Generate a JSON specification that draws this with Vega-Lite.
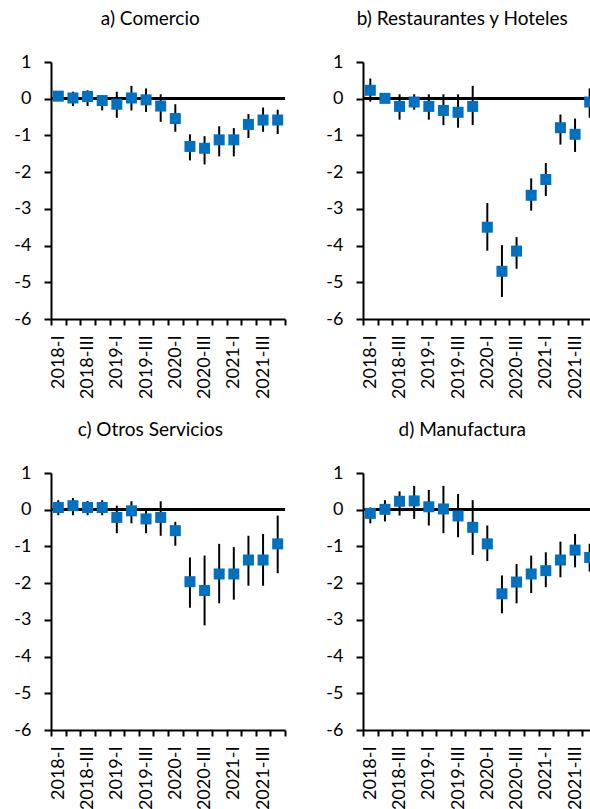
{
  "$schema": "https://vega.github.io/schema/vega-lite/v6.json",
  "padding": {"left": 13, "top": 10, "right": 0, "bottom": 0},
  "datasets": {
    "a": [
      {"q":"2018-I","v":0.07,"lo":-0.06,"hi":0.2},
      {"q":"2018-II","v":0.02,"lo":-0.2,"hi":0.19},
      {"q":"2018-III","v":0.06,"lo":-0.2,"hi":0.23},
      {"q":"2018-IV","v":-0.05,"lo":-0.32,"hi":0.1},
      {"q":"2019-I","v":-0.15,"lo":-0.52,"hi":0.19},
      {"q":"2019-II","v":0.02,"lo":-0.32,"hi":0.35},
      {"q":"2019-III","v":-0.03,"lo":-0.36,"hi":0.28},
      {"q":"2019-IV","v":-0.2,"lo":-0.63,"hi":0.12},
      {"q":"2020-I","v":-0.54,"lo":-0.9,"hi":-0.15},
      {"q":"2020-II","v":-1.3,"lo":-1.68,"hi":-0.97},
      {"q":"2020-III","v":-1.35,"lo":-1.79,"hi":-1.02},
      {"q":"2020-IV","v":-1.12,"lo":-1.57,"hi":-0.75},
      {"q":"2021-I","v":-1.12,"lo":-1.57,"hi":-0.8},
      {"q":"2021-II","v":-0.7,"lo":-1.07,"hi":-0.42},
      {"q":"2021-III","v":-0.58,"lo":-0.9,"hi":-0.24},
      {"q":"2021-IV","v":-0.58,"lo":-0.96,"hi":-0.3}
    ],
    "b": [
      {"q":"2018-I","v":0.23,"lo":-0.08,"hi":0.55},
      {"q":"2018-II","v":0.01,"lo":-0.07,"hi":0.1},
      {"q":"2018-III","v":-0.21,"lo":-0.57,"hi":0.12},
      {"q":"2018-IV","v":-0.09,"lo":-0.3,"hi":0.12},
      {"q":"2019-I","v":-0.21,"lo":-0.57,"hi":0.12},
      {"q":"2019-II","v":-0.32,"lo":-0.72,"hi":0.12},
      {"q":"2019-III","v":-0.37,"lo":-0.79,"hi":0.12},
      {"q":"2019-IV","v":-0.21,"lo":-0.72,"hi":0.35},
      {"q":"2020-I","v":-3.5,"lo":-4.14,"hi":-2.84},
      {"q":"2020-II","v":-4.7,"lo":-5.4,"hi":-3.99},
      {"q":"2020-III","v":-4.15,"lo":-4.63,"hi":-3.77},
      {"q":"2020-IV","v":-2.63,"lo":-3.05,"hi":-2.17},
      {"q":"2021-I","v":-2.2,"lo":-2.65,"hi":-1.75},
      {"q":"2021-II","v":-0.79,"lo":-1.25,"hi":-0.43},
      {"q":"2021-III","v":-0.97,"lo":-1.45,"hi":-0.54},
      {"q":"2021-IV","v":-0.09,"lo":-0.52,"hi":0.28}
    ],
    "c": [
      {"q":"2018-I","v":0.06,"lo":-0.15,"hi":0.26},
      {"q":"2018-II","v":0.11,"lo":-0.15,"hi":0.32},
      {"q":"2018-III","v":0.06,"lo":-0.15,"hi":0.24},
      {"q":"2018-IV","v":0.06,"lo":-0.15,"hi":0.26},
      {"q":"2019-I","v":-0.21,"lo":-0.64,"hi":0.11},
      {"q":"2019-II","v":-0.03,"lo":-0.37,"hi":0.23},
      {"q":"2019-III","v":-0.25,"lo":-0.64,"hi":0.0},
      {"q":"2019-IV","v":-0.21,"lo":-0.71,"hi":0.23},
      {"q":"2020-I","v":-0.57,"lo":-0.98,"hi":-0.33},
      {"q":"2020-II","v":-1.96,"lo":-2.67,"hi":-1.3},
      {"q":"2020-III","v":-2.2,"lo":-3.15,"hi":-1.25},
      {"q":"2020-IV","v":-1.75,"lo":-2.55,"hi":-0.93},
      {"q":"2021-I","v":-1.75,"lo":-2.45,"hi":-1.02},
      {"q":"2021-II","v":-1.37,"lo":-2.07,"hi":-0.71},
      {"q":"2021-III","v":-1.37,"lo":-2.07,"hi":-0.66},
      {"q":"2021-IV","v":-0.93,"lo":-1.73,"hi":-0.16}
    ],
    "d": [
      {"q":"2018-I","v":-0.1,"lo":-0.37,"hi":0.06},
      {"q":"2018-II","v":0.01,"lo":-0.32,"hi":0.26},
      {"q":"2018-III","v":0.23,"lo":-0.16,"hi":0.5},
      {"q":"2018-IV","v":0.24,"lo":-0.25,"hi":0.65},
      {"q":"2019-I","v":0.08,"lo":-0.43,"hi":0.54},
      {"q":"2019-II","v":0.02,"lo":-0.64,"hi":0.65},
      {"q":"2019-III","v":-0.17,"lo":-0.75,"hi":0.43},
      {"q":"2019-IV","v":-0.48,"lo":-1.23,"hi":0.26},
      {"q":"2020-I","v":-0.93,"lo":-1.4,"hi":-0.43},
      {"q":"2020-II","v":-2.29,"lo":-2.82,"hi":-1.79},
      {"q":"2020-III","v":-1.97,"lo":-2.55,"hi":-1.48},
      {"q":"2020-IV","v":-1.75,"lo":-2.27,"hi":-1.25},
      {"q":"2021-I","v":-1.66,"lo":-2.11,"hi":-1.16},
      {"q":"2021-II","v":-1.37,"lo":-1.84,"hi":-0.87},
      {"q":"2021-III","v":-1.1,"lo":-1.57,"hi":-0.66},
      {"q":"2021-IV","v":-1.3,"lo":-1.68,"hi":-0.93}
    ]
  },
  "config": {
    "view": {"stroke": null},
    "font": "Lato",
    "title": {"fontSize": 19, "fontWeight": "normal", "color": "black", "offset": 24, "anchor": "middle", "frame": "bounds"},
    "axis": {"domainColor": "black", "tickColor": "black", "labelColor": "black", "labelFontSize": 18, "grid": false, "title": null, "domainWidth": 2, "tickWidth": 2, "labelOverlap": false},
    "axisX": {"tickSize": 6, "labelPadding": 10},
    "axisY": {"tickSize": 7, "labelPadding": 13}
  },
  "spacing": 22,
  "vconcat": [
    {
      "spacing": 38,
      "hconcat": [
        {
          "title": "a) Comercio", "width": 234, "height": 257, "data": {"name": "a"},
          "encoding": {
            "x": {"field": "q", "type": "ordinal", "sort": null, "scale": {"domain": ["2018-I","2018-II","2018-III","2018-IV","2019-I","2019-II","2019-III","2019-IV","2020-I","2020-II","2020-III","2020-IV","2021-I","2021-II","2021-III","2021-IV"], "paddingInner": 0, "paddingOuter": 0}, "axis": {"labelAngle": -90, "tickBand": "extent", "labelOverlap": false, "labelExpr": "test(/-(II|IV)$/, datum.value) ? '' : datum.value"}},
            "y": {"field": "v", "type": "quantitative", "scale": {"domain": [-6, 1], "nice": false, "zero": false}, "axis": {"values": [-6,-5,-4,-3,-2,-1,0,1], "tickCount": 8, "labelOverlap": false, "labelExpr": "'' + datum.value", "labelFlush": false}}
          },
          "layer": [
            {"mark": {"type": "rule", "color": "black", "strokeWidth": 2}, "encoding": {"x": null, "y": {"datum": 0, "type": "quantitative"}}},
            {"mark": {"type": "rule", "color": "black", "strokeWidth": 2}, "encoding": {"y": {"field": "lo", "type": "quantitative"}, "y2": {"field": "hi"}}},
            {"mark": {"type": "point", "shape": "square", "filled": true, "size": 121, "color": "#0070C0", "opacity": 1}}
          ]
        },
        {
          "title": "b) Restaurantes y Hoteles", "width": 234, "height": 257, "data": {"name": "b"},
          "encoding": {
            "x": {"field": "q", "type": "ordinal", "sort": null, "scale": {"domain": ["2018-I","2018-II","2018-III","2018-IV","2019-I","2019-II","2019-III","2019-IV","2020-I","2020-II","2020-III","2020-IV","2021-I","2021-II","2021-III","2021-IV"], "paddingInner": 0, "paddingOuter": 0}, "axis": {"labelAngle": -90, "tickBand": "extent", "labelOverlap": false, "labelExpr": "test(/-(II|IV)$/, datum.value) ? '' : datum.value"}},
            "y": {"field": "v", "type": "quantitative", "scale": {"domain": [-6, 1], "nice": false, "zero": false}, "axis": {"values": [-6,-5,-4,-3,-2,-1,0,1], "tickCount": 8, "labelOverlap": false, "labelExpr": "'' + datum.value", "labelFlush": false}}
          },
          "layer": [
            {"mark": {"type": "rule", "color": "black", "strokeWidth": 2}, "encoding": {"x": null, "y": {"datum": 0, "type": "quantitative"}}},
            {"mark": {"type": "rule", "color": "black", "strokeWidth": 2}, "encoding": {"y": {"field": "lo", "type": "quantitative"}, "y2": {"field": "hi"}}},
            {"mark": {"type": "point", "shape": "square", "filled": true, "size": 121, "color": "#0070C0", "opacity": 1}}
          ]
        }
      ]
    },
    {
      "spacing": 38,
      "hconcat": [
        {
          "title": "c) Otros Servicios", "width": 234, "height": 257, "data": {"name": "c"},
          "encoding": {
            "x": {"field": "q", "type": "ordinal", "sort": null, "scale": {"domain": ["2018-I","2018-II","2018-III","2018-IV","2019-I","2019-II","2019-III","2019-IV","2020-I","2020-II","2020-III","2020-IV","2021-I","2021-II","2021-III","2021-IV"], "paddingInner": 0, "paddingOuter": 0}, "axis": {"labelAngle": -90, "tickBand": "extent", "labelOverlap": false, "labelExpr": "test(/-(II|IV)$/, datum.value) ? '' : datum.value"}},
            "y": {"field": "v", "type": "quantitative", "scale": {"domain": [-6, 1], "nice": false, "zero": false}, "axis": {"values": [-6,-5,-4,-3,-2,-1,0,1], "tickCount": 8, "labelOverlap": false, "labelExpr": "'' + datum.value", "labelFlush": false}}
          },
          "layer": [
            {"mark": {"type": "rule", "color": "black", "strokeWidth": 2}, "encoding": {"x": null, "y": {"datum": 0, "type": "quantitative"}}},
            {"mark": {"type": "rule", "color": "black", "strokeWidth": 2}, "encoding": {"y": {"field": "lo", "type": "quantitative"}, "y2": {"field": "hi"}}},
            {"mark": {"type": "point", "shape": "square", "filled": true, "size": 121, "color": "#0070C0", "opacity": 1}}
          ]
        },
        {
          "title": "d) Manufactura", "width": 234, "height": 257, "data": {"name": "d"},
          "encoding": {
            "x": {"field": "q", "type": "ordinal", "sort": null, "scale": {"domain": ["2018-I","2018-II","2018-III","2018-IV","2019-I","2019-II","2019-III","2019-IV","2020-I","2020-II","2020-III","2020-IV","2021-I","2021-II","2021-III","2021-IV"], "paddingInner": 0, "paddingOuter": 0}, "axis": {"labelAngle": -90, "tickBand": "extent", "labelOverlap": false, "labelExpr": "test(/-(II|IV)$/, datum.value) ? '' : datum.value"}},
            "y": {"field": "v", "type": "quantitative", "scale": {"domain": [-6, 1], "nice": false, "zero": false}, "axis": {"values": [-6,-5,-4,-3,-2,-1,0,1], "tickCount": 8, "labelOverlap": false, "labelExpr": "'' + datum.value", "labelFlush": false}}
          },
          "layer": [
            {"mark": {"type": "rule", "color": "black", "strokeWidth": 2}, "encoding": {"x": null, "y": {"datum": 0, "type": "quantitative"}}},
            {"mark": {"type": "rule", "color": "black", "strokeWidth": 2}, "encoding": {"y": {"field": "lo", "type": "quantitative"}, "y2": {"field": "hi"}}},
            {"mark": {"type": "point", "shape": "square", "filled": true, "size": 121, "color": "#0070C0", "opacity": 1}}
          ]
        }
      ]
    }
  ]
}
